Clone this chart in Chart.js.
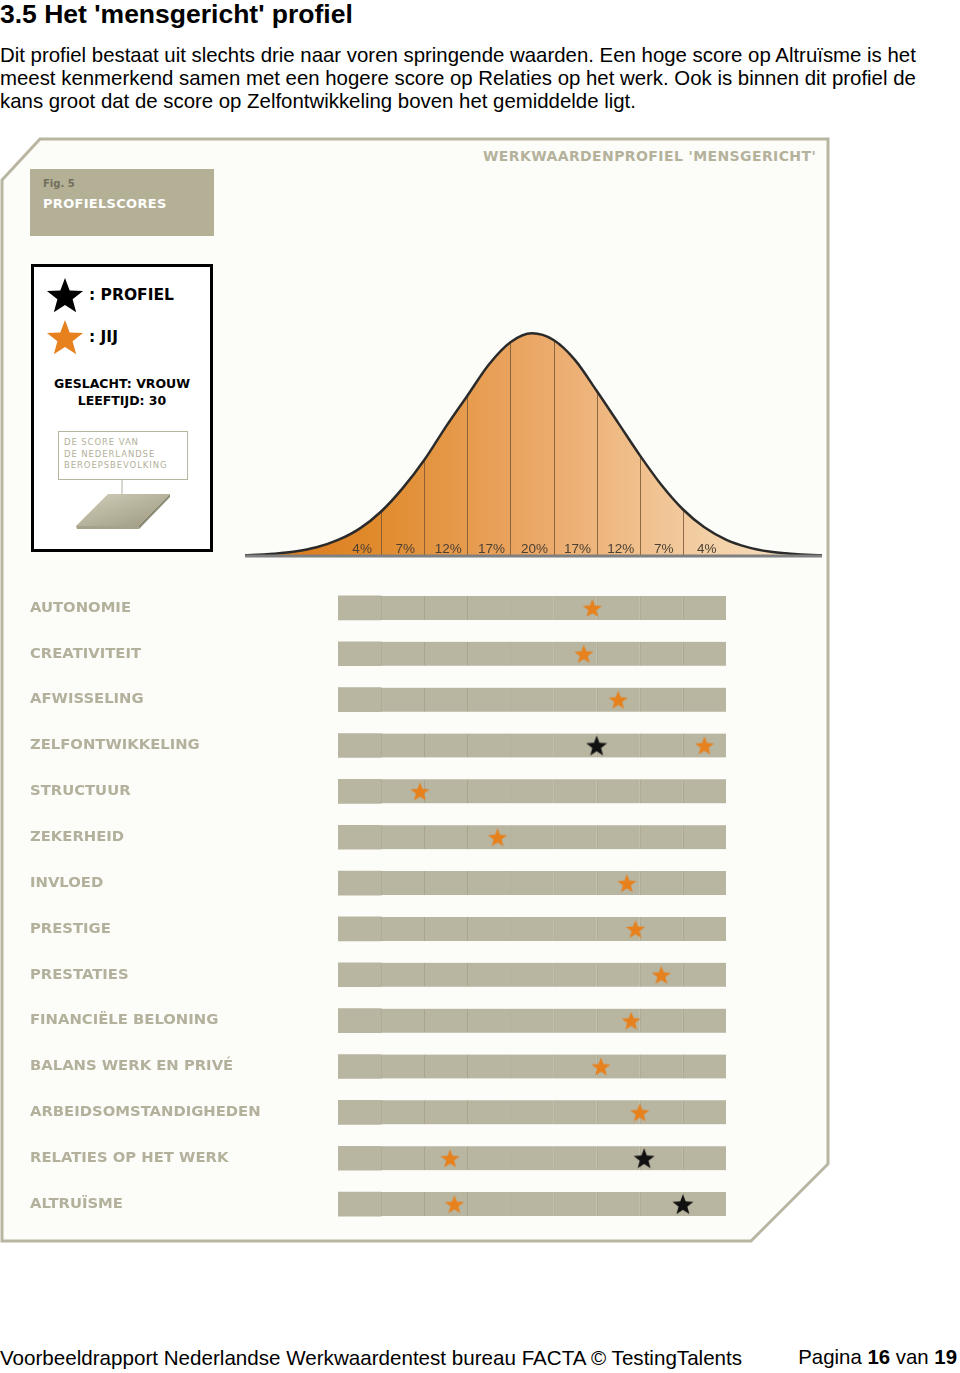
<!DOCTYPE html>
<html>
<head>
<meta charset="utf-8">
<script src="https://cdn.jsdelivr.net/npm/chart.js@4.4.1/dist/chart.umd.min.js"></script>
<style>
  body { margin: 0; width: 960px; height: 1373px; position: relative; background: #fff; overflow: hidden;
         font-family: "Liberation Sans", Arial, sans-serif; color: #000; }
  .abs { position: absolute; white-space: nowrap; }
  h1 { position: absolute; left: 0; top: 0; margin: 0; font-size: 26.5px; line-height: 28px; font-weight: bold; }
  .para { left: 0; font-size: 20.4px; line-height: 23px; }
  .din { font-family: "DejaVu Sans", sans-serif; font-weight: bold; }
  #figbox { left: 30px; top: 169px; width: 184px; height: 67px; background: #b4b096; }
  #legend { left: 31px; top: 264px; width: 176px; height: 282px; border: 3px solid #000; background: #fff; }
  #small { left: 58px; top: 431px; width: 128px; height: 47px; border: 1px solid #b7b49f; background: #fff; }
</style>
</head>
<body>
<h1>3.5 Het 'mensgericht' profiel</h1>
<div class="abs para" style="top:44px">Dit profiel bestaat uit slechts drie naar voren springende waarden. Een hoge score op Altruïsme is het</div>
<div class="abs para" style="top:67px">meest kenmerkend samen met een hogere score op Relaties op het werk. Ook is binnen dit profiel de</div>
<div class="abs para" style="top:90px">kans groot dat de score op Zelfontwikkeling boven het gemiddelde ligt.</div>

<svg class="abs" style="left:0;top:0" width="960" height="1373">
  <defs>
    <linearGradient id="plate" x1="0" y1="0" x2="1" y2="1">
      <stop offset="0" stop-color="#d2cfbb"/>
      <stop offset="1" stop-color="#9c987f"/>
    </linearGradient>
  </defs>
  <polygon points="2,180 40,139 828,139 828,1164 751,1241 2,1241" fill="#fcfcf9" stroke="#b8b5a0" stroke-width="3"/>
</svg>

<div class="abs din" style="left:483px;top:148px;font-size:14px;color:#b5b29c;letter-spacing:0.4px">WERKWAARDENPROFIEL 'MENSGERICHT'</div>
<div class="abs" id="figbox">
  <div class="abs din" style="left:13px;top:9px;font-size:10px;color:#726f5d">Fig. 5</div>
  <div class="abs din" style="left:13px;top:27px;font-size:13px;color:#fff;letter-spacing:0.3px">PROFIELSCORES</div>
</div>

<div class="abs" id="legend">
  <div class="abs" id="lgBlack" style="left:12px;top:9px"></div>
  <div class="abs din" style="left:55px;top:19px;font-size:15.5px">: PROFIEL</div>
  <div class="abs" id="lgOrange" style="left:12px;top:51px"></div>
  <div class="abs din" style="left:55px;top:61px;font-size:15.5px">: JIJ</div>
  <div class="abs din" style="left:0;width:176px;text-align:center;top:108px;font-size:12.5px;line-height:17px">GESLACHT: VROUW<br>LEEFTIJD: 30</div>
</div>
<div class="abs" id="small">
  <div class="abs" style="left:5px;top:5px;font-family:'DejaVu Sans',sans-serif;font-size:8.5px;line-height:11.5px;color:#b3b09b;letter-spacing:0.9px">DE SCORE VAN<br>DE NEDERLANDSE<br>BEROEPSBEVOLKING</div>
</div>
<svg class="abs" style="left:0;top:0" width="300" height="600">
  <line x1="122" y1="480" x2="122" y2="504" stroke="#b3b09b" stroke-width="1"/>
  <polygon points="108,494 170,494 138,526 76,526" fill="url(#plate)"/>
  <polygon points="170,494 170,497 139,529 138,526" fill="#8d8a73"/>
  <polygon points="76,526 138,526 139,529 77,529" fill="#a6a28b"/>
</svg>

<canvas id="bell" class="abs" style="left:245px;top:320px" width="577" height="240"></canvas>
<canvas id="rows" class="abs" style="left:30px;top:585px" width="696" height="642"></canvas>

<div class="abs" style="left:0;top:1346px;font-size:20.6px;line-height:23px">Voorbeeldrapport Nederlandse Werkwaardentest bureau FACTA © TestingTalents</div>
<div class="abs" style="right:3px;top:1346px;font-size:20.4px;line-height:23px">Pagina <b>16</b> van <b>19</b></div>

<script>
// rows of the profile, top to bottom
const categories = ['AUTONOMIE', 'CREATIVITEIT', 'AFWISSELING', 'ZELFONTWIKKELING', 'STRUCTUUR', 'ZEKERHEID',
  'INVLOED', 'PRESTIGE', 'PRESTATIES', 'FINANCIËLE BELONING', 'BALANS WERK EN PRIVÉ',
  'ARBEIDSOMSTANDIGHEDEN', 'RELATIES OP HET WERK', 'ALTRUÏSME'];
// orange stars ("jij") and black stars ("profiel"), position on the 0..9 band scale
const jijScores = [5.9, 5.7, 6.5, 8.5, 1.9, 3.7, 6.7, 6.9, 7.5, 6.8, 6.1, 7.0, 2.6, 2.7];
const profielScores = [null, null, null, 6.0, null, null, null, null, null, null, null, null, 7.1, 8.0];
// share of the population in each of the 9 bands
const bandPercents = [4, 7, 12, 17, 20, 17, 12, 7, 4];
// bell curve (x on the band scale, height as % of the peak)
const curveX = [-2.16, -2, -1.5, -1, -0.5, 0, 0.5, 1, 1.5, 2, 2.5, 3, 3.5, 4, 4.5,
  5, 5.5, 6, 6.5, 7, 7.5, 8, 8.5, 9, 9.5, 10, 10.5, 11, 11.23];
const curveY = [0.3, 0.4, 1.0, 2.0, 3.9, 7.2, 12.3, 20.0, 30.5, 43.1, 58.0, 72.0, 86.0, 96.0, 100,
  97.0, 88.0, 74.2, 59.8, 45.3, 32.0, 21.0, 12.9, 7.4, 4.0, 2.0, 1.0, 0.4, 0.3];

function makeStar(size, color) {
  const c = document.createElement('canvas');
  c.width = c.height = size;
  const g = c.getContext('2d');
  const r = size / 2, ri = r * 0.42;
  g.beginPath();
  for (let k = 0; k < 10; k++) {
    const a = -Math.PI / 2 + k * Math.PI / 5;
    const rr = k % 2 ? ri : r;
    g.lineTo(r + rr * Math.cos(a), r + size * 0.05 + rr * Math.sin(a));
  }
  g.closePath();
  g.fillStyle = color;
  g.fill();
  return c;
}

const ORANGE = '#e7811d';
document.getElementById('lgBlack').appendChild(makeStar(38, '#000'));
document.getElementById('lgOrange').appendChild(makeStar(38, ORANGE));

// --- bell curve ---
const bandPlugin = {
  id: 'bands',
  beforeDatasetDraw(chart, args) {
    if (args.index !== 0) return;
    const ctx = chart.ctx, ys = chart.scales.y;
    const base = ys.getPixelForValue(0);
    ctx.save();
    ctx.strokeStyle = 'rgba(115, 85, 50, 0.8)';
    ctx.lineWidth = 1;
    args.meta.data.forEach((pt, j) => {
      const x = curveX[j];
      if (Number.isInteger(x) && x >= 1 && x <= bandPercents.length - 1) {
        const px = Math.round(pt.x) + 0.5;
        ctx.beginPath();
        ctx.moveTo(px, base);
        ctx.lineTo(px, pt.y);
        ctx.stroke();
      }
    });
    ctx.restore();
  },
  afterDatasetsDraw(chart) {
    const ctx = chart.ctx, xs = chart.scales.x, ys = chart.scales.y;
    const base = ys.getPixelForValue(0);
    ctx.save();
    ctx.font = '13.5px "Liberation Sans", Arial, sans-serif';
    ctx.fillStyle = '#4a3f33';
    ctx.textAlign = 'center';
    ctx.textBaseline = 'alphabetic';
    bandPercents.forEach((p, i) => {
      ctx.fillText(p + '%', xs.getPixelForValue(i + 0.5) + 2.5, base - 3);
    });
    ctx.restore();
  }
};

new Chart(document.getElementById('bell'), {
  type: 'line',
  data: {
    datasets: [
      {
        data: curveX.map((x, i) => ({ x, y: curveY[i] })),
        borderColor: '#2a2a2a',
        borderWidth: 2.5,
        pointRadius: 0,
        cubicInterpolationMode: 'monotone',
        fill: 'origin',
        order: 2,
        backgroundColor: (c) => {
          const a = c.chart.chartArea;
          if (!a) return '#e9a55d';
          const g = c.chart.ctx.createLinearGradient(a.left, 0, a.right, 0);
          g.addColorStop(0, '#d8761a');
          g.addColorStop(0.22, '#e08a2c');
          g.addColorStop(0.5, '#eba766');
          g.addColorStop(0.8, '#f3cfa5');
          g.addColorStop(1, '#f8e2c8');
          return g;
        }
      },
      {
        data: [{ x: curveX[0], y: 0 }, { x: curveX[curveX.length - 1], y: 0 }],
        borderColor: '#808080',
        borderWidth: 3,
        pointRadius: 0,
        clip: 6,
        order: 1
      }
    ]
  },
  options: {
    responsive: false,
    animation: false,
    layout: { autoPadding: false, padding: { bottom: 4 } },
    scales: {
      x: { type: 'linear', min: curveX[0], max: curveX[curveX.length - 1], display: false },
      y: { min: 0, max: 106, display: false }
    },
    plugins: { legend: { display: false }, tooltip: { enabled: false } }
  },
  plugins: [bandPlugin]
});

// --- profile rows ---
const orangeStar = makeStar(20, ORANGE);
const blackStar = makeStar(22, '#111');

const bandDatasets = bandPercents.map((p, i) => ({
  type: 'bar',
  data: categories.map(() => [i, i + 1]),
  backgroundColor: '#b8b5a0',
  borderColor: '#a3a08a',
  borderWidth: { left: i ? 1 : 0, right: 0, top: 0, bottom: 0 },
  borderSkipped: false,
  barThickness: 24,
  grouped: false,
  order: 3
}));

new Chart(document.getElementById('rows'), {
  type: 'bar',
  data: {
    labels: categories,
    datasets: [
      ...bandDatasets,
      {
        type: 'scatter',
        data: categories.map((c, i) => ({ x: jijScores[i], y: c })),
        pointStyle: orangeStar,
        clip: false,
        order: 1
      },
      {
        type: 'scatter',
        data: categories.map((c, i) => ({ x: profielScores[i], y: c })).filter(d => d.x !== null),
        pointStyle: blackStar,
        clip: false,
        order: 0
      }
    ]
  },
  options: {
    indexAxis: 'y',
    responsive: false,
    animation: false,
    layout: { autoPadding: false, padding: 0 },
    scales: {
      x: { type: 'linear', min: 0, max: bandPercents.length, display: false },
      y: {
        type: 'category',
        labels: categories,
        offset: true,
        grid: { display: false },
        border: { display: false },
        ticks: {
          crossAlign: 'far',
          padding: 0,
          color: '#b3b09b',
          font: { family: 'DejaVu Sans', weight: 'bold', size: 14.8 }
        },
        afterFit: (s) => {
          s.width = 308;
          s.paddingTop = 0;
          s.paddingBottom = 0;
        }
      }
    },
    plugins: { legend: { display: false }, tooltip: { enabled: false } }
  }
});
</script>
</body>
</html>
